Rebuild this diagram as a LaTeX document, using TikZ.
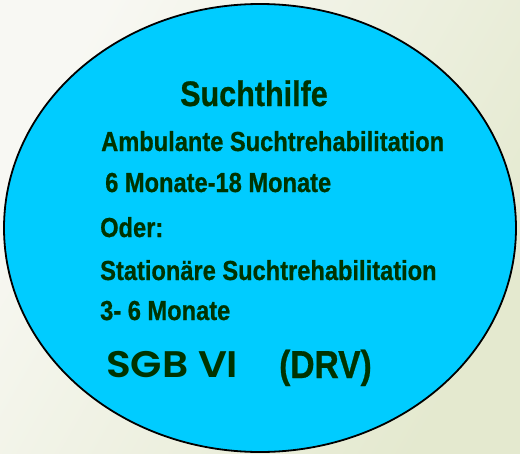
\documentclass[tikz,border=0pt]{standalone}
\usepackage{fontspec}
\setmainfont{Liberation Sans}[FakeStretch=0.86, BoldFeatures={FakeBold=0.7}]
\newfontfamily\sgbfont{Poppins SemiBold}[FakeStretch=1.1]
\definecolor{bgA}{HTML}{F8F8F3}
\definecolor{bgB}{HTML}{E4E9CF}
\definecolor{ballfill}{HTML}{00CCFF}
\definecolor{txtgreen}{HTML}{003300}
\tikzset{
  lbl/.style={anchor=base west, inner sep=0pt, text=txtgreen, font=\bfseries\fontsize{27.5}{27.5}\selectfont},
  bigl/.style={anchor=base west, inner sep=0pt, text=txtgreen},
}
\begin{document}
\begin{tikzpicture}[x=1pt,y=-1pt]
\useasboundingbox (0,0) rectangle (520,453);
\shade[shading=axis, left color=bgA, right color=bgB, shading angle=60] (0,0) rectangle (520,453);
\draw[fill=ballfill, draw=black, line width=1.8pt] (260,228) ellipse [x radius=256, y radius=224];
\node[bigl, font=\bfseries\fontsize{35.5}{35.5}\selectfont] (t0) at (180,106) {Suchthilfe};
\node[lbl] (t1) at (101,151) {Ambulante Suchtrehabilitation};
\node[lbl] (t2) at (105,192) {6 Monate-18 Monate};
\node[lbl] (t3) at (100,237) {Oder:};
\node[lbl] (t4) at (100,280) {Stationäre Suchtrehabilitation};
\node[lbl] (t5) at (100,320) {3- 6 Monate};
\node[bigl, font=\sgbfont\fontsize{37}{37}\selectfont] (t6) at (106,377) {SGB VI};
\node[bigl, font=\bfseries\fontsize{39}{39}\selectfont] (t7) at (279,378) {(DRV)};
\end{tikzpicture}
\end{document}
